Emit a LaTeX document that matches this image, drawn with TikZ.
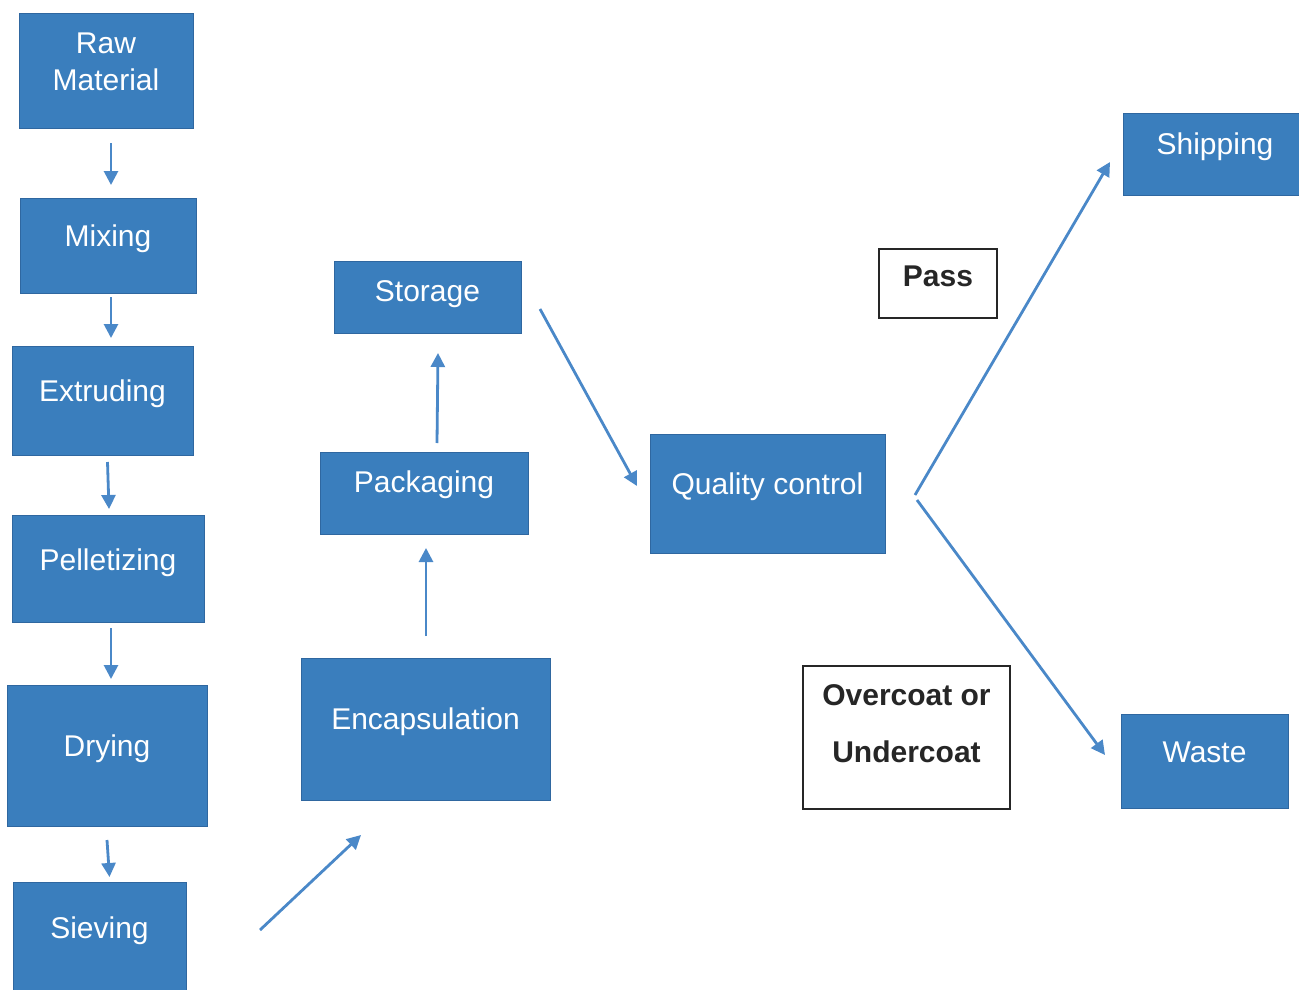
\documentclass[tikz,border=0pt]{standalone}
\usepackage{fontspec}
\setmainfont{Liberation Sans}
\usetikzlibrary{arrows.meta,calc}
\definecolor{stageblue}{HTML}{3A7EBD}
\definecolor{stageedge}{HTML}{2F67A0}
\definecolor{flowblue}{HTML}{4A88C8}
\definecolor{notegray}{HTML}{262626}
\begin{document}
\begin{tikzpicture}[x=1pt,y=-1pt]
    \tikzset{stage/.style = {shape=rectangle,draw=stageedge,line width=1pt,fill=stageblue,text=white,
        font=\fontsize{30}{37}\selectfont,align=center,inner sep=0pt,outer sep=0pt,
        text height=15pt,text depth=13pt}}
    \tikzset{note/.style = {shape=rectangle,draw=notegray,line width=1.5pt,fill=white,text=notegray,
        font=\fontsize{30}{57}\selectfont\bfseries,align=center,inner sep=0pt,outer sep=0pt,
        text height=15pt,text depth=13pt}}
    \tikzset{flow/.style = {draw=flowblue,line width=2.8pt,-{Triangle[length=14pt,width=14pt]}}}
    \clip (0,0) rectangle (1299,990);
    \node[stage,minimum width=174,minimum height=114,text height=55pt,text depth=15pt] (raw) at (106,71) {Raw\\Material};
    \node[stage,minimum width=176,minimum height=95] (mix) at (108,245.5) {Mixing};
    \node[stage,minimum width=181,minimum height=109] (ext) at (102.5,400.5) {Extruding};
    \node[stage,minimum width=192,minimum height=107,text depth=11pt] (pel) at (108,568.5) {Pelletizing};
    \node[stage,minimum width=200,minimum height=141] (dry) at (107,755.5) {Drying};
    \node[stage,minimum width=173,minimum height=110] (siev) at (99.5,937) {Sieving};
    \node[stage,minimum width=249,minimum height=142,text depth=15pt] (encap) at (425.5,729) {Encapsulation};
    \node[stage,minimum width=208,minimum height=82,text depth=17pt] (pack) at (424,493) {Packaging};
    \node[stage,minimum width=187,minimum height=72,text depth=7pt] (stor) at (427.5,297) {Storage};
    \node[stage,minimum width=235,minimum height=119] (qc) at (767.5,493.5) {Quality control};
    \node[stage,minimum width=184,minimum height=82,text depth=15pt] (ship) at (1215,154) {Shipping};
    \node[stage,minimum width=167,minimum height=94] (waste) at (1204.5,761) {Waste};
    \node[note,minimum width=118,minimum height=69,text depth=10pt] (pass) at (938,283.5) {Pass};
    \node[note,minimum width=207,minimum height=143,text height=64pt,text depth=15pt] (coat) at (906.5,737.5) {Overcoat or\\Undercoat};
    \draw[flow] ($(raw.south)+(5,15)$) -- ($(mix.north)+(3,-13)$);
    \draw[flow] ($(mix.south)+(3,4)$) -- ($(ext.north)+(8.5,-8)$);
    \draw[flow] ($(ext.south)+(5,7)$) -- ($(pel.north)+(1,-6)$);
    \draw[flow] ($(pel.south)+(3,6)$) -- ($(dry.north)+(4,-6)$);
    \draw[flow] ($(dry.south)+(0,14)$) -- ($(siev.north)+(10,-5)$);
    \draw[flow] ($(siev.north east)+(74,48)$) -- ($(encap.south west)+(60,35)$);
    \draw[flow] ($(encap.north)+(0.5,-22)$) -- ($(pack.south)+(2,14)$);
    \draw[flow] ($(pack.north)+(13,-9)$) -- ($(stor.south)+(10.5,20)$);
    \draw[flow] ($(stor.east)+(19,12)$) -- ($(qc.west)+(-13,-7.5)$);
    \draw[flow] ($(qc.east)+(30,1.5)$) -- ($(ship.west)+(-13,8)$);
    \draw[flow] ($(qc.east)+(32,6.5)$) -- ($(waste.west)+(-16,-6)$);
\end{tikzpicture}
\end{document}
